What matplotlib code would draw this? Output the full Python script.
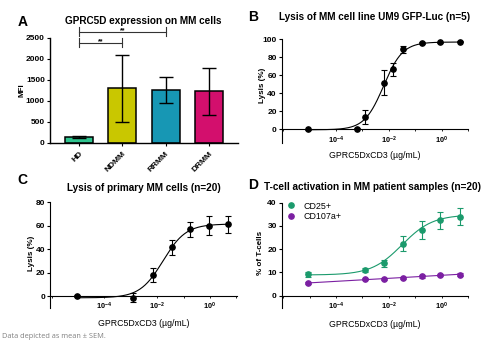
import numpy as np
import matplotlib.pyplot as plt
from matplotlib.ticker import FixedLocator, FuncFormatter, NullLocator

plt.rcParams['font.family'] = ['Liberation Sans', 'DejaVu Sans']
plt.rcParams['mathtext.default'] = 'regular'

# panel A - GPRC5D expression
groups = ['HD', 'NDMM', 'RRMM', 'DRMM']
mfi = [130, 1290, 1250, 1225]
mfi_sem = [30, 800, 310, 555]
bar_colors = ['#2fc48f', '#c9c700', '#1797b4', '#d30f6d']
sig_pairs = [(0, 1), (0, 2)]
sig_y = [2380, 2640]

# panel B - UM9 lysis
conc_b = [9e-6, 6.2e-4, 1.26e-3, 6.8e-3, 0.0138, 0.035, 0.18, 0.89, 4.8]
lysis_b = [0, 0.8, 14, 52, 66.5, 89, 95.5, 96.5, 97.5]
lysis_b_sem = [0.5, 0.5, 8, 13.5, 7.5, 4, 1, 1, 1]
fit_b = [-0.5, 97, -2.2, 1.2]  # bottom, top, logEC50, hill

# panel C - primary MM lysis
conc = [9e-6, 1.26e-3, 6.8e-3, 0.035, 0.18, 0.89, 4.8]
lysis_c = [0, -1.4, 18, 41.7, 56.9, 59.9, 61.2]
lysis_c_sem = [0.5, 4, 6, 6.5, 6.5, 8, 7.5]
fit_c = [-1.5, 61.5, -1.78, 1.0]

# panel D - T-cell activation
cd25 = [9.2, 11, 14, 22.4, 28.1, 32.4, 34]
cd25_sem = [1, 0.8, 1.5, 3.1, 3.8, 3.7, 3.7]
cd107a = [5.5, 7.1, 7.1, 7.7, 8.3, 9.0, 9.1]
cd107a_sem = [0.5, 0.5, 0.5, 0.5, 0.5, 0.5, 0.5]
fit_cd25 = [8.9, 34.8, -1.5, 0.75]

green = '#1b9a6c'
purple = '#7b1fa2'


def four_pl(x, p):
    bottom, top, logec, hill = p
    return bottom + (top - bottom) / (1 + 10 ** ((logec - np.log10(x)) * hill))


def log_axes(ax, ylo, yhi, yticks):
    ax.set_xscale('log')
    ax.set_xlim(10 ** -6.06, 10 ** 1.01)
    ax.set_ylim(ylo, yhi)
    for s in ['top', 'right']:
        ax.spines[s].set_visible(False)
    ax.spines['bottom'].set_position(('data', 0))
    for s in ['left', 'bottom']:
        ax.spines[s].set_linewidth(0.8)
    ax.xaxis.set_major_locator(FixedLocator([10.0 ** k for k in range(-6, 2)]))
    ax.xaxis.set_minor_locator(NullLocator())
    ax.xaxis.set_major_formatter(FuncFormatter(
        lambda v, pos: '10$^{%d}$' % round(np.log10(v)) if round(np.log10(v)) in (-4, -2, 0) else ''))
    ax.set_yticks(yticks)
    ax.tick_params(axis='x', length=1.5, width=0.6, labelsize=5.3, pad=2)
    ax.tick_params(axis='y', length=2, width=0.8, labelsize=6, pad=1.5)
    for t in ax.get_xticklabels() + ax.get_yticklabels():
        t.set_fontweight('bold')


fig = plt.figure(figsize=(5, 3.45), dpi=100)

# ---- A
axA = fig.add_axes([0.1, 0.5865, 0.376, 0.3043])
xa = np.arange(len(groups))
axA.bar(xa, mfi, width=0.64, color=bar_colors, edgecolor='black', linewidth=1.1, zorder=2)
axA.errorbar(xa, mfi, yerr=mfi_sem, fmt='none', ecolor='black', elinewidth=1.0,
             capsize=5, capthick=1.0, zorder=3)
axA.set_xlim(-0.67, 3.67)
axA.set_ylim(0, 2500)
axA.set_yticks([0, 500, 1000, 1500, 2000, 2500])
axA.set_xticks(xa)
axA.set_xticklabels(groups, rotation=45, ha='right', rotation_mode='anchor')
for s in ['top', 'right']:
    axA.spines[s].set_visible(False)
for s in ['left', 'bottom']:
    axA.spines[s].set_linewidth(1.0)
axA.tick_params(axis='both', length=2.2, width=0.8, labelsize=6, pad=1.5)
axA.tick_params(axis='x', pad=3)
for t in axA.get_xticklabels() + axA.get_yticklabels():
    t.set_fontweight('bold')
for (i, j), yb in zip(sig_pairs, sig_y):
    axA.plot([i, j], [yb, yb], color='#333333', lw=0.8, clip_on=False)
    for e in (i, j):
        axA.plot([e, e], [yb - 110, yb + 110], color='#333333', lw=0.8, clip_on=False)
    axA.text((i + j) / 2, yb + 15, '**', ha='center', va='center', fontsize=5,
             fontweight='bold', clip_on=False)

# ---- B
axB = fig.add_axes([0.5634, 0.5846, 0.3732, 0.3014])
log_axes(axB, -15.5, 100, [0, 20, 40, 60, 80, 100])
xb = np.logspace(np.log10(conc_b[0]), np.log10(conc_b[-1]), 300)
axB.plot(xb, four_pl(xb, fit_b), color='black', lw=0.8)
axB.errorbar(conc_b, lysis_b, yerr=lysis_b_sem, fmt='o', color='black', ms=3.8,
             elinewidth=0.8, capsize=2.2, capthick=0.8)

# ---- C
axC = fig.add_axes([0.1, 0.1072, 0.3732, 0.3064])
log_axes(axC, -10.2, 80, [0, 20, 40, 60, 80])
xc = np.logspace(np.log10(conc[0]), np.log10(conc[-1]), 300)
axC.plot(xc, four_pl(xc, fit_c), color='black', lw=0.8)
axC.errorbar(conc, lysis_c, yerr=lysis_c_sem, fmt='o', color='black', ms=3.8,
             elinewidth=0.8, capsize=2.2, capthick=0.8)

# ---- D
axD = fig.add_axes([0.5634, 0.1064, 0.3732, 0.3064])
log_axes(axD, -5.4, 40, [0, 10, 20, 30, 40])
axD.plot(xc, four_pl(xc, fit_cd25), color=green, lw=0.8)
k = np.polyfit(np.log10(conc), cd107a, 1)
axD.plot(xc, np.polyval(k, np.log10(xc)), color=purple, lw=0.8)
axD.errorbar(conc, cd25, yerr=cd25_sem, fmt='none', ecolor=green, elinewidth=0.8,
             capsize=2.2, capthick=0.8)
axD.errorbar(conc, cd107a, yerr=cd107a_sem, fmt='none', ecolor=purple, elinewidth=0.8,
             capsize=2.2, capthick=0.8)
axD.plot(conc, cd25, 'o', color=green, ms=3.8, label='CD25+')
axD.plot(conc, cd107a, 'o', color=purple, ms=3.8, label='CD107a+')
axD.legend(loc='upper left', bbox_to_anchor=(0.0, 1.06), frameon=False, fontsize=6.4,
           handlelength=1.0, handletextpad=0.8, labelspacing=0.2, borderaxespad=0.2)

# ---- texts
W, H = 500, 345


def ftext(x, y, s, **kw):
    fig.text(x / W, 1 - y / H, s, va='center', **kw)


ftext(22.5, 22, 'A', fontsize=10, fontweight='bold', ha='center')
ftext(253, 17, 'B', fontsize=10, fontweight='bold', ha='center')
ftext(22, 180, 'C', fontsize=10, fontweight='bold', ha='center')
ftext(253, 185, 'D', fontsize=10, fontweight='bold', ha='center')

ftext(143.5, 21, 'GPRC5D expression on MM cells', fontsize=7.2, fontweight='bold', ha='center')
ftext(375, 17.3, 'Lysis of MM cell line UM9 GFP-Luc (n=5)', fontsize=7.2, fontweight='bold', ha='center')
ftext(143.5, 187.7, 'Lysis of primary MM cells (n=20)', fontsize=7.2, fontweight='bold', ha='center')
ftext(372, 186.7, 'T-cell activation in MM patient samples (n=20)', fontsize=7.2, fontweight='bold', ha='center')

ftext(21.7, 90, 'MFI', fontsize=5.8, fontweight='bold', ha='center', rotation=90)
ftext(262.3, 85, 'Lysis (%)', fontsize=5.8, fontweight='bold', ha='center', rotation=90)
ftext(31.7, 253, 'Lysis (%)', fontsize=5.8, fontweight='bold', ha='center', rotation=90)
ftext(260, 253, '% of T-cells', fontsize=5.8, fontweight='bold', ha='center', rotation=90)

ftext(374.3, 155, 'GPRC5DxCD3 (µg/mL)', fontsize=6.3, ha='center')
ftext(143.3, 323, 'GPRC5DxCD3 (µg/mL)', fontsize=6.3, ha='center')
ftext(374.3, 324.3, 'GPRC5DxCD3 (µg/mL)', fontsize=6.3, ha='center')

fig.text(2 / W, 1 - 336 / H, 'Data depicted as mean ± SEM.', va='center', ha='left',
         fontsize=5.3, color='#808080', family=['Open Sans', 'DejaVu Sans'])

fig.savefig('out.png', dpi=100, facecolor='white')
